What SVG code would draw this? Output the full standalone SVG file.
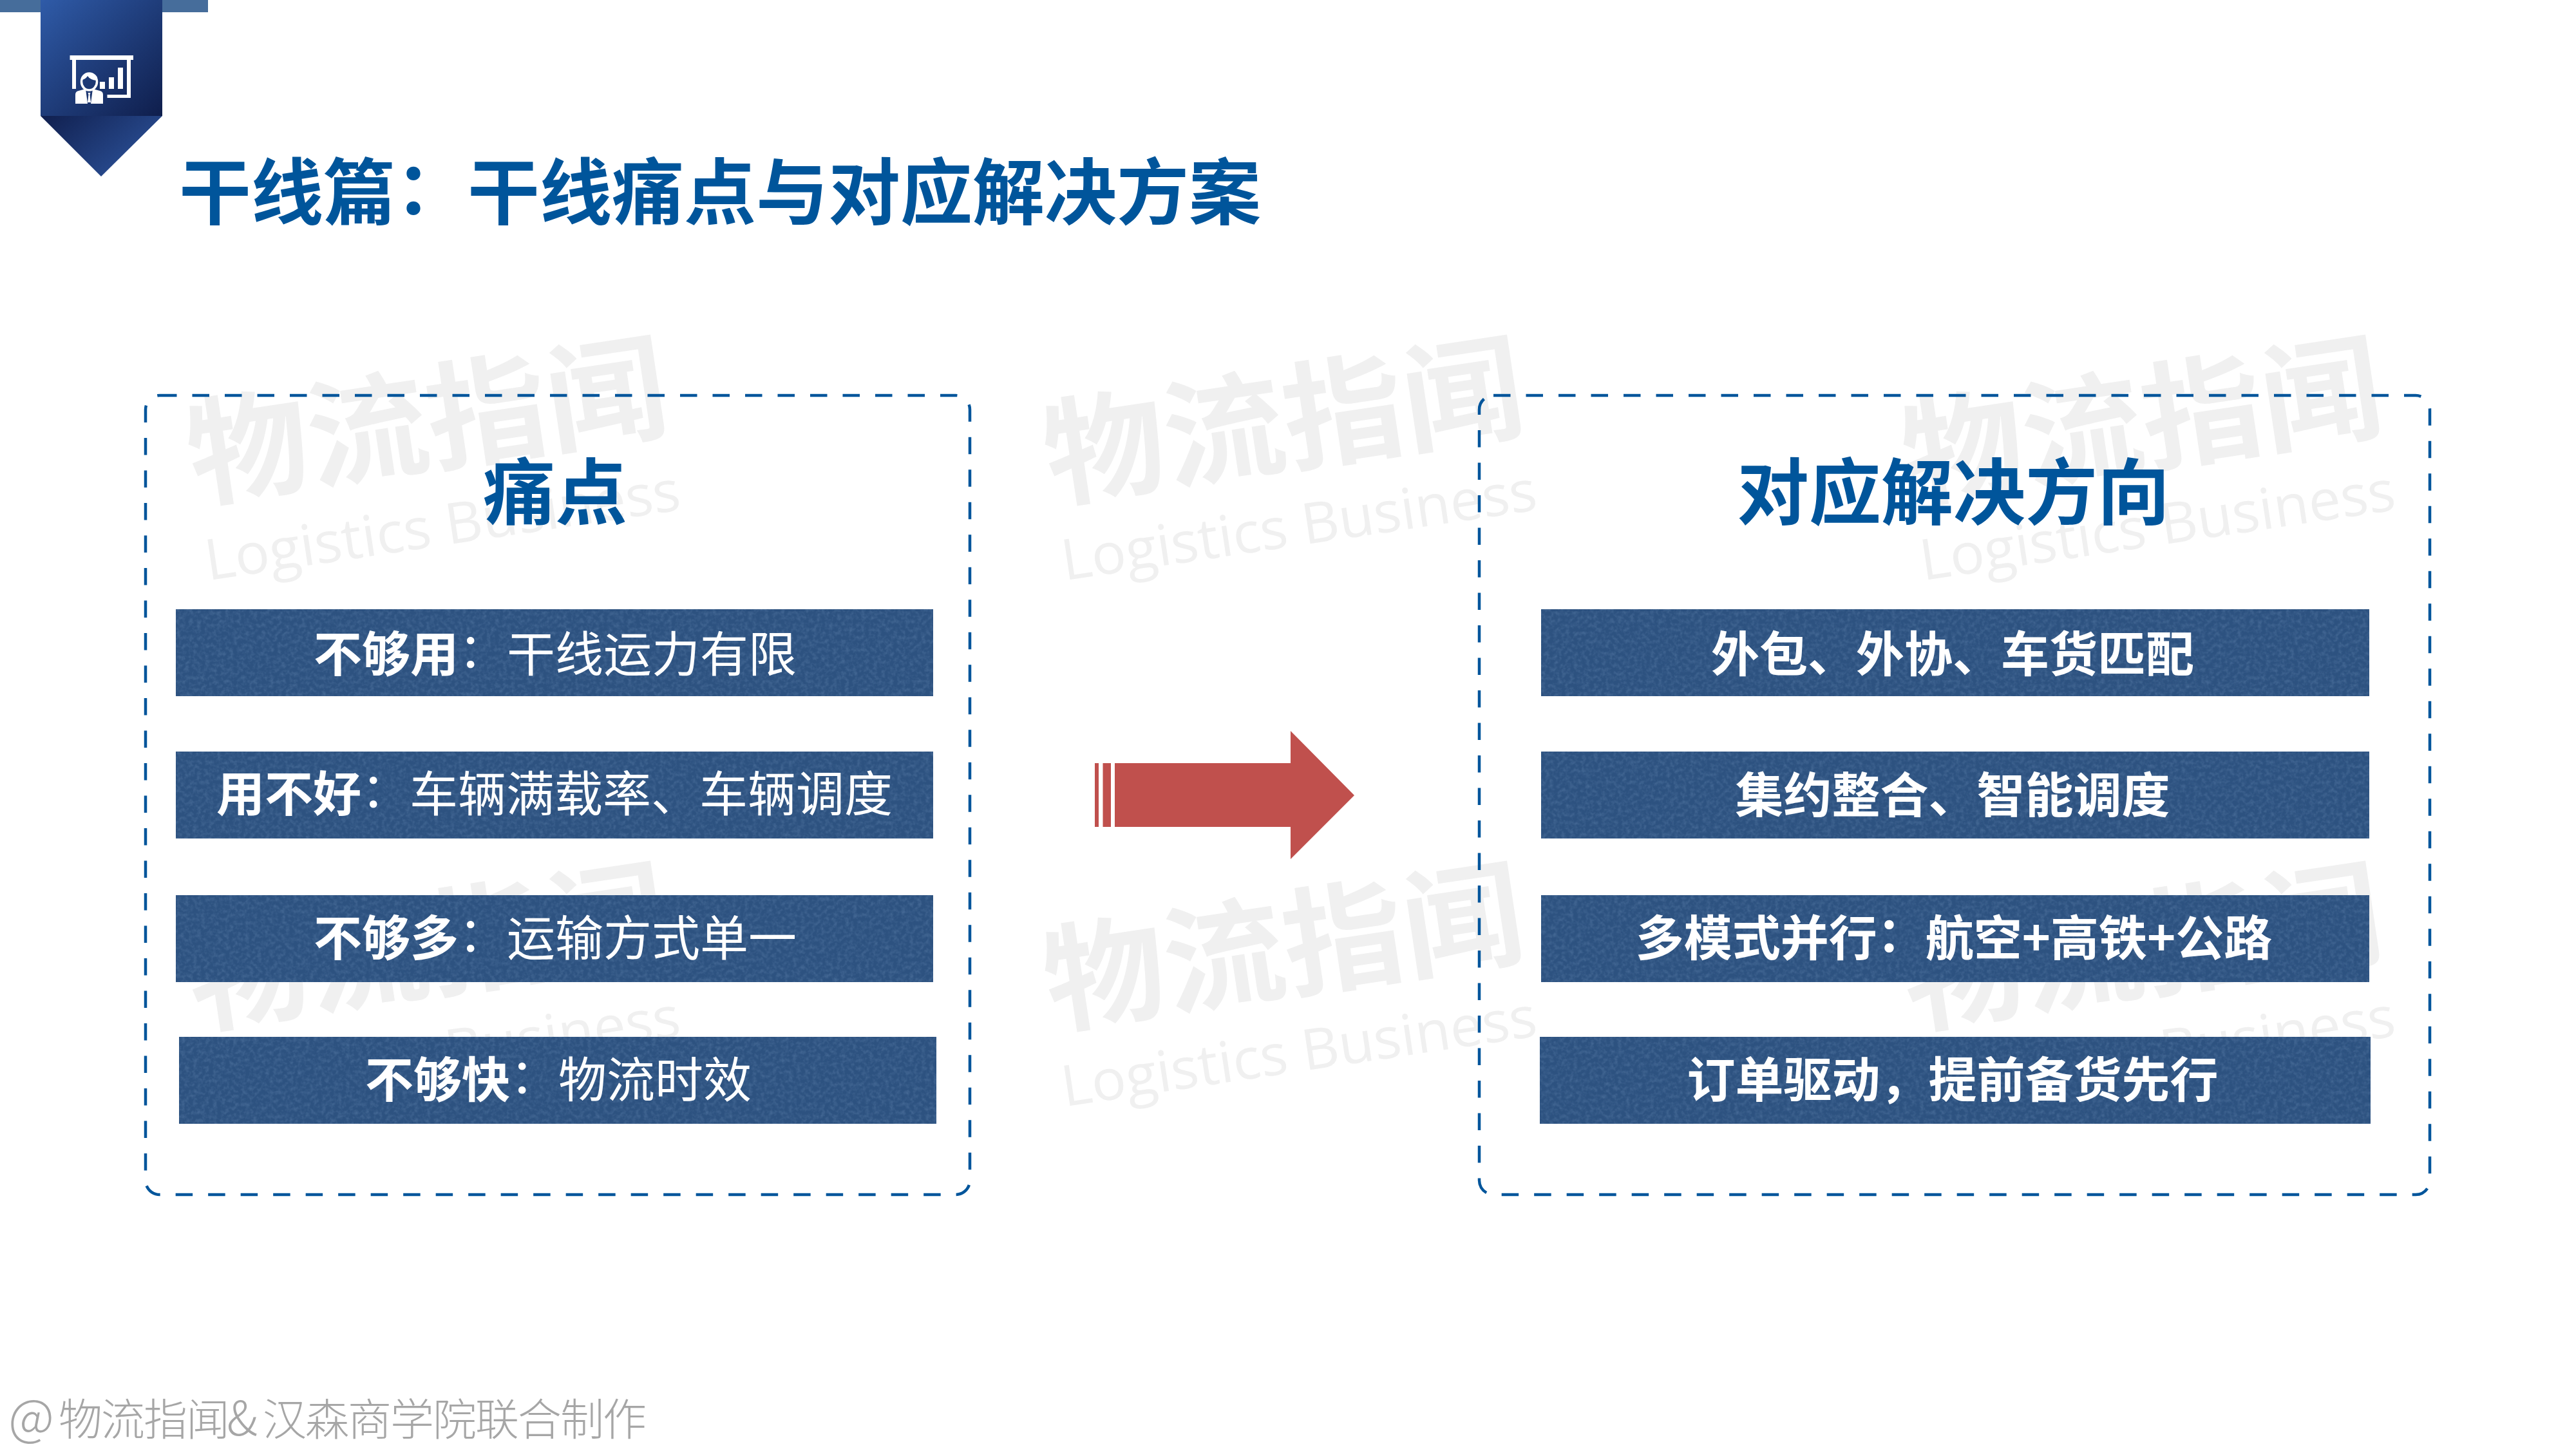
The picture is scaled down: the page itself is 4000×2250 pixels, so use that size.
<svg xmlns="http://www.w3.org/2000/svg" width="4000" height="2250" viewBox="0 0 4000 2250">
<style>
text{font-family:"Noto Sans CJK SC","Liberation Sans",sans-serif}
.h{font-size:112px;font-weight:700;fill:#00559b;text-anchor:middle}
.t{font-size:112px;font-weight:700;fill:#00559b}
.b{font-size:75px;fill:#fff;text-anchor:middle}
.m{font-weight:700}
.bar{fill:#2d5280;filter:url(#tex)}
.box{fill:none;stroke:#00559b;stroke-width:4.500;stroke-dasharray:26.500 24}
.wm1{font-size:182px;font-weight:700;fill:#f0f0f0}
.wm2{font-size:88px;fill:#f0f0f0;font-family:"Open Sans",sans-serif}
.w{fill:#fff}
</style>
<defs>
<filter id="tex" x="0" y="0" width="1" height="1" color-interpolation-filters="sRGB">
<feTurbulence type="fractalNoise" baseFrequency="0.16" numOctaves="3" seed="5"/>
<feColorMatrix type="matrix" values="0 0 0 0 0.29 0 0 0 0 0.43 0 0 0 0 0.6 1.5 0 0 0 -0.58"/>
<feComposite in2="SourceGraphic" operator="in" result="n"/>
<feMerge><feMergeNode in="SourceGraphic"/><feMergeNode in="n"/></feMerge>
</filter>
<linearGradient id="g1" x1="0" y1="0" x2="1" y2="1"><stop offset="0" stop-color="#2f5ba8"/><stop offset="1" stop-color="#0f1e4c"/></linearGradient>
<linearGradient id="g2" x1="0" y1="0" x2="1" y2="0.6"><stop offset="0" stop-color="#101f4e"/><stop offset="1" stop-color="#2b5097"/></linearGradient>
<g id="wm">
<text class="wm1" x="0" y="0" textLength="750" lengthAdjust="spacingAndGlyphs">物流指闻</text>
<text class="wm2" x="2" y="128" textLength="745" lengthAdjust="spacingAndGlyphs">Logistics Business</text>
</g>
</defs>
<rect width="4000" height="2250" fill="#fff"/>
<g id="watermarks">
<use href="#wm" transform="translate(302 775) rotate(-8.5)"/>
<use href="#wm" transform="translate(1632 775) rotate(-8.5)"/>
<use href="#wm" transform="translate(2965 775) rotate(-8.5)"/>
<use href="#wm" transform="translate(302 1592) rotate(-8.5)"/>
<use href="#wm" transform="translate(1632 1592) rotate(-8.5)"/>
<use href="#wm" transform="translate(2965 1592) rotate(-8.5)"/>
</g>
<g id="header-ribbon">
<rect x="0" y="0" width="323" height="19" fill="#466d9b"/>
<rect x="63" y="0" width="189" height="180" fill="url(#g1)"/>
<path d="M63 180H252L157 274Z" fill="url(#g2)"/>
<g id="icon" class="w">
<rect x="108.500" y="86" width="98.500" height="7"/>
<rect x="112" y="93" width="6" height="45"/>
<path d="M197 93h6v59h-36.500v-5H197Z"/>
<rect x="155" y="127" width="8" height="11"/>
<rect x="169" y="120" width="8" height="18"/>
<rect x="183" y="105" width="8" height="33"/>
<ellipse cx="138.500" cy="127" rx="12" ry="13" fill="none" stroke="#fff" stroke-width="3.500"/>
<path d="M127 124q6-1 9-6q4 6 14 7l1-5q-4-7-12-7q-11 0-12 11Z"/>
<path d="M117 161v-14q0-5 5-6l11-3l3 23ZM160 161v-14q0-5-5-6l-11-3l-3 23Z"/>
<path d="M136.500 144h4l-1 3l1.500 12h-5l1.500-12Z"/>
</g>
</g>
<text id="title" class="t" x="278" y="340">干线篇<tspan dy="-7">&#xFF1A;</tspan><tspan dy="7">干线痛点与对应解决方案</tspan></text>
<g id="pain-box">
<rect class="box" x="226" y="614" width="1280" height="1241" rx="22"/>
<text class="h" x="862" y="806">痛点</text>
</g>
<g id="solution-box">
<rect class="box" x="2297" y="614" width="1476" height="1241" rx="22"/>
<text class="h" x="3033" y="806">对应解决方向</text>
</g>
<g id="pain-1"><rect class="bar" x="273" y="946" width="1176" height="135"/><text class="b" x="862" y="1043"><tspan class="m">不够用</tspan><tspan dy="-6">&#xFF1A;</tspan><tspan dy="6">干线运力有限</tspan></text></g>
<g id="pain-2"><rect class="bar" x="273" y="1167" width="1176" height="135"/><text class="b" x="861" y="1260"><tspan class="m">用不好</tspan><tspan dy="-6">&#xFF1A;</tspan><tspan dy="6">车辆满载率、车辆调度</tspan></text></g>
<g id="pain-3"><rect class="bar" x="273" y="1390" width="1176" height="135"/><text class="b" x="862" y="1484"><tspan class="m">不够多</tspan><tspan dy="-6">&#xFF1A;</tspan><tspan dy="6">运输方式单一</tspan></text></g>
<g id="pain-4"><rect class="bar" x="278" y="1610" width="1176" height="135"/><text class="b" x="867" y="1704"><tspan class="m">不够快</tspan><tspan dy="-6">&#xFF1A;</tspan><tspan dy="6">物流时效</tspan></text></g>
<g id="sol-1"><rect class="bar" x="2393" y="946" width="1286" height="135"/><text class="b m" x="3032" y="1043">外包、外协、车货匹配</text></g>
<g id="sol-2"><rect class="bar" x="2393" y="1167" width="1286" height="135"/><text class="b m" x="3032" y="1262">集约整合、智能调度</text></g>
<g id="sol-3"><rect class="bar" x="2393" y="1390" width="1286" height="135"/><text class="b m" x="3034" y="1484">多模式并行<tspan dy="-6">&#xFF1A;</tspan><tspan dy="6">航空+高铁+公路</tspan></text></g>
<g id="sol-4"><rect class="bar" x="2391" y="1610" width="1290" height="135"/><text class="b m" x="3032" y="1704">订单驱动&#xFF0C;提前备货先行</text></g>
<g id="connectors">
<path fill="#c0504d" d="M1731 1185H2004V1135L2103 1235L2004 1334V1284H1731ZM1712.500 1185H1725V1284H1712.500ZM1700 1185H1706V1284H1700Z"/>
</g>
<text id="footer" y="2229" font-size="68" font-weight="300" fill="#a6a6a6" letter-spacing="-2"><tspan x="13" font-size="78" letter-spacing="0">@</tspan><tspan x="91">物流指闻</tspan><tspan x="352" font-size="74" letter-spacing="0">&amp;</tspan><tspan x="408">汉森商学院联合制作</tspan></text>
</svg>
